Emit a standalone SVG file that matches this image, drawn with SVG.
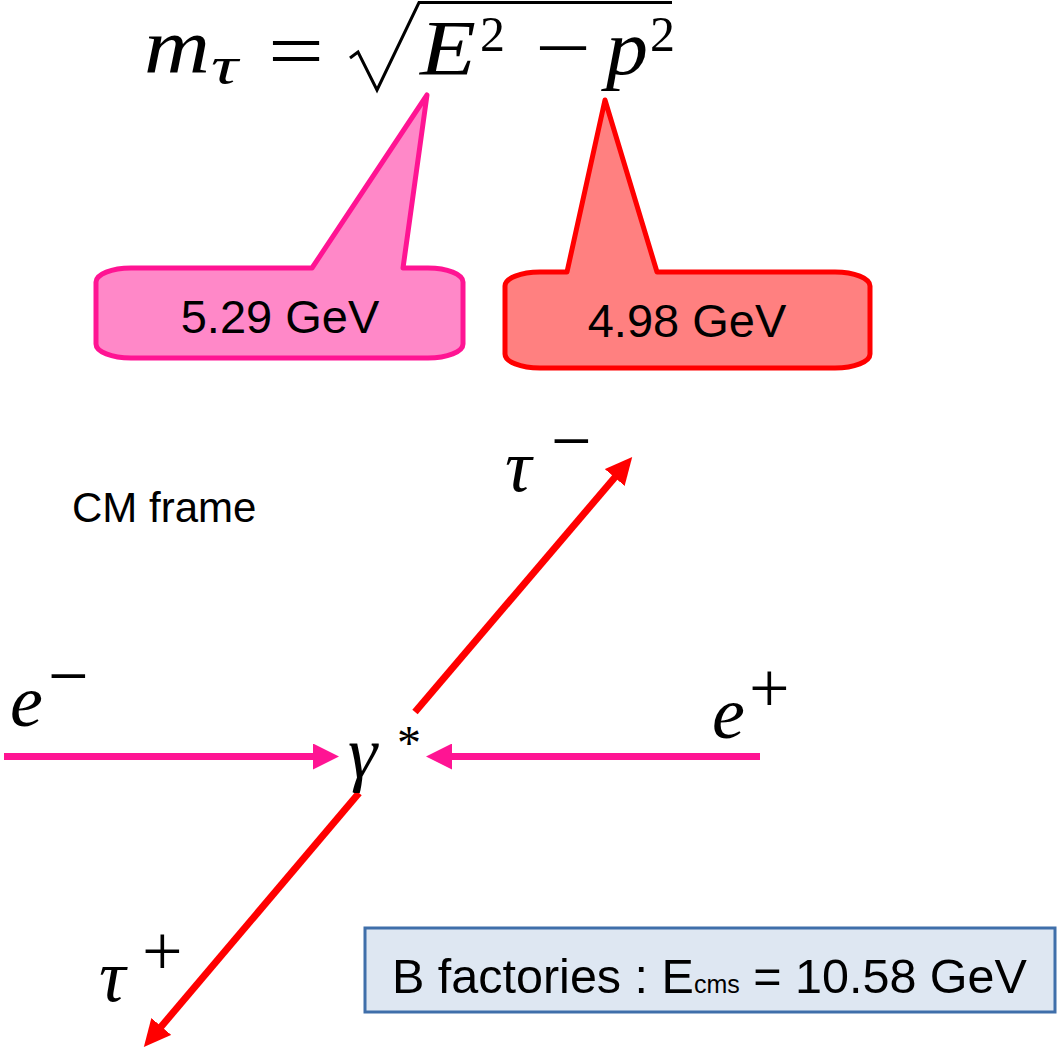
<svg xmlns="http://www.w3.org/2000/svg" width="1059" height="1051" viewBox="0 0 1059 1051">
<style>
.math{font-family:"Liberation Serif","Times New Roman",serif;fill:#000}
.it{font-style:italic}
.sans{font-family:"Liberation Sans",Arial,sans-serif;fill:#000}
.pinkcall{fill:#FF88C8;stroke:#FF1493;stroke-width:5;stroke-linejoin:round}
.redcall{fill:#FF8080;stroke:#FF0000;stroke-width:5;stroke-linejoin:round}
.pinkline{stroke:#FF1493;stroke-width:7;fill:none}
.redline{stroke:#FF0000;stroke-width:7;fill:none}
.lbl{font-size:74px}
.sup{font-size:72px}
</style>
<defs>
<marker id="headPink" markerUnits="userSpaceOnUse" viewBox="0 -13 26 26" refX="2" refY="0" markerWidth="26" markerHeight="26" orient="auto">
<path d="M0,-13 L26,0 L0,13 Z" fill="#FF1493"/>
</marker>
<marker id="headRed" markerUnits="userSpaceOnUse" viewBox="0 -13 27 26" refX="2" refY="0" markerWidth="27" markerHeight="26" orient="auto">
<path d="M0,-13 L27,0 L0,13 Z" fill="#FF0000"/>
</marker>
</defs>
<rect width="1059" height="1051" fill="#fff"/>

<g id="formula">
<text class="math it" x="144" y="73" font-size="78" textLength="66" lengthAdjust="spacingAndGlyphs">m</text>
<text class="math it" x="211" y="83" font-size="52" textLength="27" lengthAdjust="spacingAndGlyphs">τ</text>
<text class="math" x="268" y="77" font-size="78" textLength="56" lengthAdjust="spacingAndGlyphs">=</text>
<path d="M350,58 L358,52 L377,90 L419,2.5 L672,2.5" fill="none" stroke="#000" stroke-width="3" stroke-linejoin="miter"/>
<text class="math it" x="420" y="74" font-size="78" textLength="56" lengthAdjust="spacingAndGlyphs">E</text>
<text class="math" x="480" y="51" font-size="50">2</text>
<text class="math" x="535" y="74" font-size="78" textLength="56" lengthAdjust="spacingAndGlyphs">−</text>
<text class="math it" x="606" y="74" font-size="78" textLength="42" lengthAdjust="spacingAndGlyphs">p</text>
<text class="math" x="650" y="51" font-size="50">2</text>
</g>

<g id="callout-E">
<path class="pinkcall" d="M131,268 L312,268 L427,95 L403,268 L428,268 A35,14 0 0 1 463,282 L463,344 A35,14 0 0 1 428,358 L131,358 A35,14 0 0 1 96,344 L96,282 A35,14 0 0 1 131,268 Z"/>
<text class="sans" x="280" y="333" font-size="47" text-anchor="middle">5.29 GeV</text>
</g>

<g id="callout-p">
<path class="redcall" d="M540,272 L567,272 L605,100 L657,272 L835,272 A35,14 0 0 1 870,286 L870,354 A35,14 0 0 1 835,368 L540,368 A35,14 0 0 1 505,354 L505,286 A35,14 0 0 1 540,272 Z"/>
<text class="sans" x="687" y="337" font-size="47" text-anchor="middle">4.98 GeV</text>
</g>

<g id="cm-frame">
<text class="sans" x="72" y="522" font-size="42">CM frame</text>
</g>

<g id="connectors">
<line class="pinkline" x1="4" y1="756.5" x2="315" y2="756.5" marker-end="url(#headPink)"/>
<line class="pinkline" x1="760" y1="756.5" x2="450" y2="756.5" marker-end="url(#headPink)"/>
<line class="redline" x1="415" y1="712" x2="616" y2="476" marker-end="url(#headRed)"/>
<line class="redline" x1="359" y1="793" x2="160" y2="1028" marker-end="url(#headRed)"/>
</g>

<g id="e-minus">
<text class="math it lbl" x="10" y="726">e</text>
<text class="math sup" x="48" y="700">−</text>
</g>
<g id="e-plus">
<text class="math it lbl" x="712" y="738">e</text>
<text class="math sup" x="749" y="712">+</text>
</g>
<g id="gamma-star">
<text class="math it lbl" x="348" y="777">γ</text>
<text class="math" x="397" y="759" font-size="48">*</text>
</g>
<g id="tau-minus">
<text class="math it lbl" x="505" y="491">τ</text>
<text class="math sup" x="551" y="465">−</text>
</g>
<g id="tau-plus">
<text class="math it lbl" x="99" y="1001">τ</text>
<text class="math sup" x="142" y="975">+</text>
</g>

<g id="b-factories">
<rect x="365" y="928" width="690" height="84" fill="#DEE7F2" stroke="#3F6FAA" stroke-width="3"/>
<text class="sans" x="392" y="993" font-size="48.5">B factories : E<tspan font-size="25">cms</tspan> = 10.58 GeV</text>
</g>
</svg>
